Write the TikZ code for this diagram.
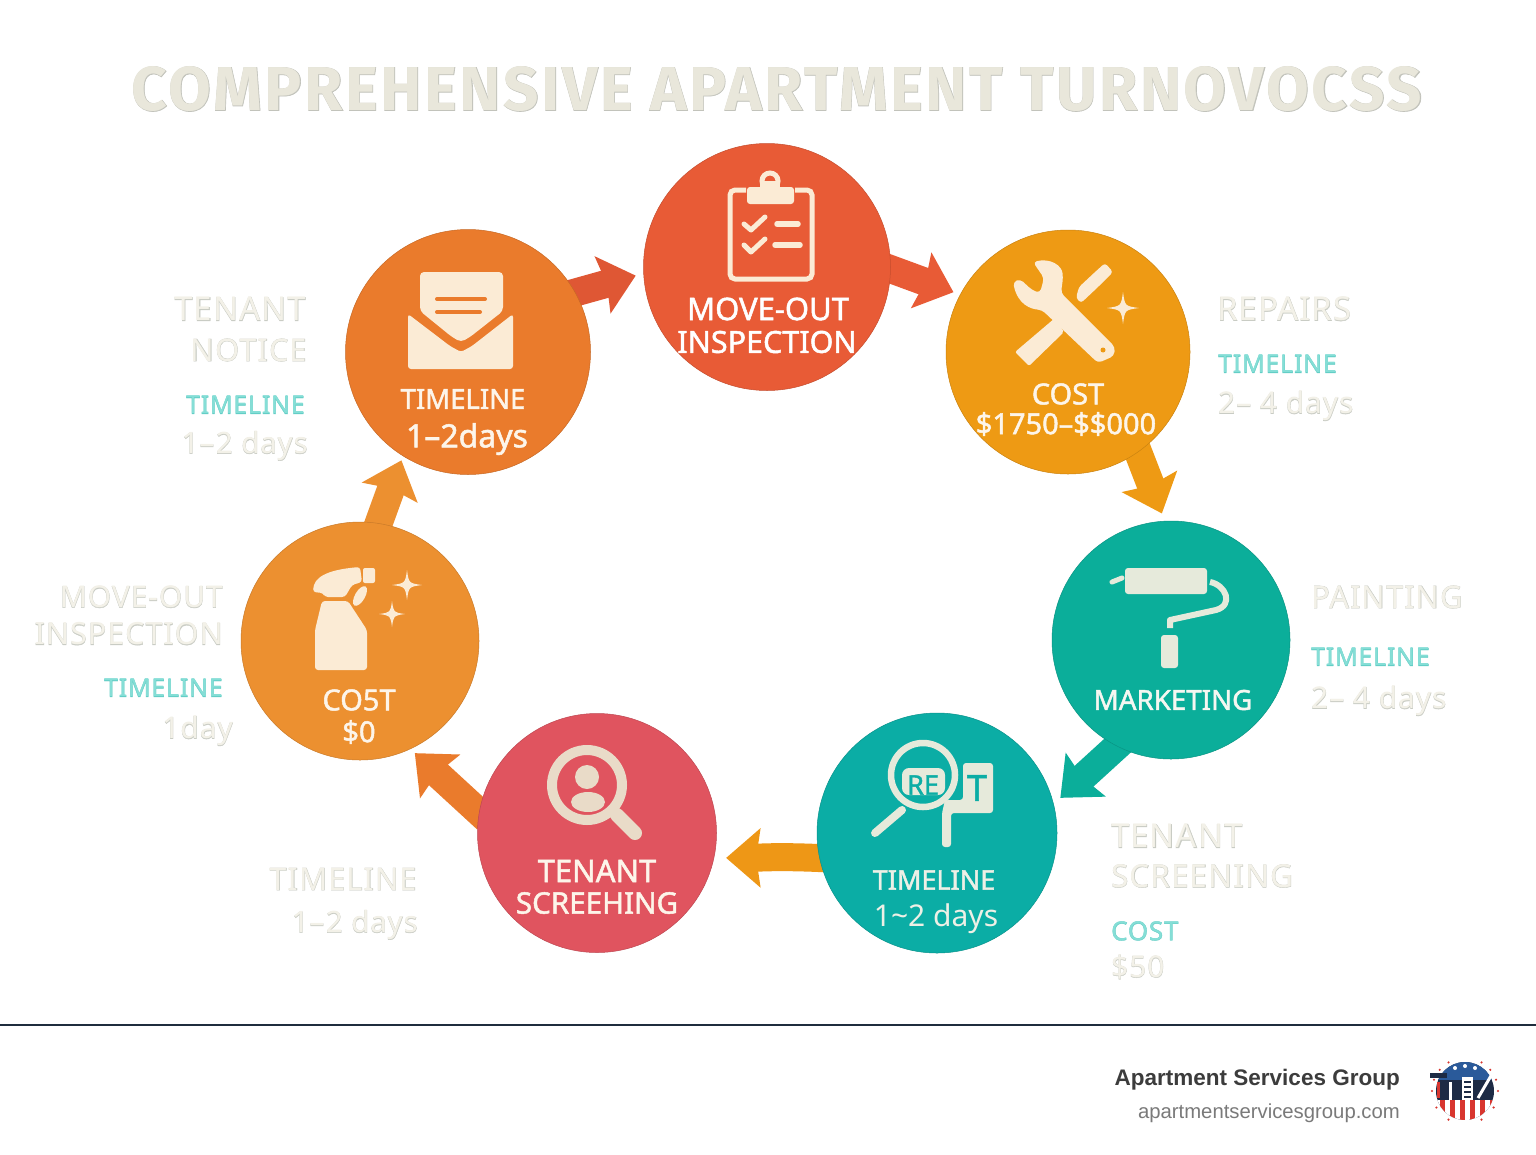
\documentclass[tikz,border=0pt]{standalone}
\usepackage{xcolor}
\usepackage{fontspec}
\setmainfont{Noto Sans}[BoldFont={Noto Sans},BoldFeatures={FakeBold=1.6}]
\usetikzlibrary{arrows.meta, backgrounds}
\newfontfamily\labelfont[LetterSpace=3]{Noto Sans}
\newfontfamily\labeledge[LetterSpace=3,FakeBold=1.2]{Noto Sans}
\newfontfamily\titlefont[LetterSpace=4.2]{Fira Sans Bold}
\newfontfamily\titleedge[LetterSpace=4.2,FakeBold=1]{Fira Sans Bold}
\newfontfamily\footfont{Liberation Sans}
\definecolor{moveorange}{HTML}{E85B36}
\definecolor{repairamber}{HTML}{EE9A14}
\definecolor{paintteal}{HTML}{0BAE9A}
\definecolor{rentteal}{HTML}{0BADA5}
\definecolor{screenrose}{HTML}{E0545F}
\definecolor{cleanorange}{HTML}{EC9030}
\definecolor{noticeorange}{HTML}{EA7B2C}
\definecolor{iconcream}{HTML}{FBEBD5}
\definecolor{iconpale}{HTML}{E6EADB}
\definecolor{ghostfill}{HTML}{F3F1E8}
\definecolor{ghostline}{HTML}{C9CCC4}
\definecolor{titlefill}{HTML}{E9E7DB}
\definecolor{titleline}{HTML}{C2C3BB}
\definecolor{tealfill}{HTML}{85DED6}
\definecolor{tealline}{HTML}{63CEC6}
\definecolor{footline}{HTML}{1F2D3D}
\definecolor{footdark}{HTML}{3C3C3C}
\definecolor{footgrey}{HTML}{7A7A7A}
\definecolor{logoblue}{HTML}{2A5A9A}
\definecolor{logored}{HTML}{D8362F}
\definecolor{logonavy}{HTML}{1D2B45}
\newcommand{\ghost}[2]{\rlap{\color{#1line}\labeledge #2}{\color{#1fill}\labelfont #2}}
\newcommand{\sparkle}[3]{\fill[#1, shift={(#2)}, scale=#3] (0,-1) .. controls (.12,-.12) .. (1,0) .. controls (.12,.12) .. (0,1) .. controls (-.12,.12) .. (-1,0) .. controls (-.12,-.12) .. cycle;}
\tikzset{
    stage/.style={circle, minimum size=#1, inner sep=0pt, line width=0.5pt},
    stagetext/.style={inner sep=0pt, font=\fontsize{#1}{#1}\selectfont\bfseries, text=iconcream!50!white},
    stagethin/.style={inner sep=0pt, font=\fontsize{#1}{#1}\selectfont, text=iconcream!50!white},
    ghosttext/.style={inner sep=0pt, font=\fontsize{#1}{#1}\selectfont},
    ghosttext/.default=30,
    tealtext/.style={inner sep=0pt, font=\fontsize{25}{25}\selectfont},
    flow/.style={line width=28pt, -{Stealth[length=34pt,width=58pt,inset=4pt]}, shorten <=-10pt}
}
\begin{document}
\begin{tikzpicture}[x=1pt, y=-1pt]
    \useasboundingbox (0,0) rectangle (1536,1154);

    % Title
    \node[inner sep=0pt, font=\fontsize{62}{62}\selectfont] (title) at (777,89)
        {\rlap{\color{titleline}\titleedge COMPREHENSIVE APARTMENT TURNOVOCSS}{\color{titlefill}\titlefont COMPREHENSIVE APARTMENT TURNOVOCSS}};

    % Stage circles
    \node[stage=245pt, fill=noticeorange, draw=noticeorange!85!black] (notice) at (468,352) {};
    \node[stage=247pt, fill=moveorange, draw=moveorange!85!black] (moveout) at (767,267) {};
    \node[stage=244pt, fill=repairamber, draw=repairamber!85!black] (repairs) at (1068,352) {};
    \node[stage=238pt, fill=paintteal, draw=paintteal!85!black] (painting) at (1171,640) {};
    \node[stage=240pt, fill=rentteal, draw=rentteal!85!black] (renting) at (937,833) {};
    \node[stage=239pt, fill=screenrose, draw=screenrose!85!black] (screening) at (597,833) {};
    \node[stage=238pt, fill=cleanorange, draw=cleanorange!85!black] (cleaning) at (360,641) {};

    % Connectors under the circles
    \begin{scope}[on background layer]
        \fill[white] (0,0) rectangle (1536,1154);
        \draw[flow, moveorange!96!black, shorten >=8pt] (notice.29) -- (moveout.183);
        \draw[flow, moveorange, shorten >=7pt] (moveout.-1) -- (repairs.152);
        \draw[flow, repairamber, shorten >=8pt] (repairs.-55) -- (painting.93);
        \draw[flow, paintteal, shorten >=9pt] (painting.-117) -- (renting.14);
        \draw[flow, repairamber!90!noticeorange, shorten >=12pt] (renting.192) to[out=177, in=0] (screening.-12);
        \draw[flow, noticeorange, shorten >=6pt] (screening.170) -- (cleaning.-65);
        \draw[flow, cleanorange, shorten >=4.5pt] (cleaning.81) -- (notice.-122);
    \end{scope}

    % Text inside the circles
    \node[stagetext=31, text=white] (moveouta) at (768,309) {MOVE-OUT};
    \node[stagetext=30.5, text=white] (moveoutb) at (767,342) {INSPECTION};
    \node[stagetext=29] (repairsa) at (1068,394) {COST};
    \node[stagetext=29] (repairsb) at (1066,424) {\$1750–\$\$000};
    \node[stagetext=27.7, text=iconpale!40!white] (paintinga) at (1173,700) {MARKETING};
    \node[stagetext=27, text=iconpale!70!white] (rentinga) at (934,880) {TIMELINE};
    \node[stagethin=30, text=iconpale!70!white] (rentingb) at (936,919) {1\textasciitilde 2 days};
    \node[stagetext=31] (screeninga) at (597,871) {TENANT};
    \node[stagetext=29.6] (screeningb) at (597,903) {SCREEHING};
    \node[stagetext=29] (cleaninga) at (359,700) {CO5T};
    \node[stagetext=29] (cleaningb) at (359,732) {\$0};
    \node[stagetext=27.5] (noticea) at (463,399) {TIMELINE};
    \node[stagetext=32] (noticeb) at (467,439) {1–2days};

    % Ghost labels beside the circles
    \node[ghosttext=33, anchor=east] (lnotea) at (306,309) {\ghost{ghost}{TENANT}};
    \node[ghosttext=31, anchor=east] (lnoteb) at (307,350) {\ghost{ghost}{NOTICE}};
    \node[tealtext, anchor=east] (lnotec) at (305,405) {\ghost{teal}{TIMELINE}};
    \node[ghosttext=29.5, anchor=east] (lnoted) at (308,446) {\ghost{ghost}{1–{\kern-7pt} 2 days}};
    \node[ghosttext=33, anchor=west] (lrepa) at (1217,309) {\ghost{ghost}{REPAIRS}};
    \node[tealtext, anchor=west] (lrepb) at (1218,364) {\ghost{teal}{TIMELINE}};
    \node[ghosttext, anchor=west] (lrepc) at (1218,406) {\ghost{ghost}{2– 4 days}};
    \node[ghosttext=31, anchor=west] (lpaia) at (1311,597) {\ghost{ghost}{PAINTING}};
    \node[tealtext, anchor=west] (lpaib) at (1311,657) {\ghost{teal}{TIMELINE}};
    \node[ghosttext, anchor=west] (lpaic) at (1311,701) {\ghost{ghost}{2– 4 days}};
    \node[ghosttext=33, anchor=west] (lrena) at (1111,836) {\ghost{ghost}{TENANT}};
    \node[ghosttext=31.7, anchor=west] (lrenb) at (1111,876) {\ghost{ghost}{SCREENING}};
    \node[tealtext, anchor=west, font=\fontsize{26}{26}\selectfont] (lrenc) at (1111,931) {\ghost{teal}{COST}};
    \node[ghosttext, anchor=west] (lrend) at (1111,967) {\ghost{ghost}{\$50}};
    \node[ghosttext=31, anchor=east] (lscra) at (417,879) {\ghost{ghost}{TIMELINE}};
    \node[ghosttext=29.5, anchor=east] (lscrb) at (418,925) {\ghost{ghost}{1–{\kern-7pt} 2 days}};
    \node[ghosttext, anchor=east] (lclea) at (223,597) {\ghost{ghost}{MOVE-OUT}};
    \node[ghosttext=30.6, anchor=east] (lcleb) at (223,634) {\ghost{ghost}{INSPECTION}};
    \node[tealtext, anchor=east] (lclec) at (223,688) {\ghost{teal}{TIMELINE}};
    \node[ghosttext, anchor=east] (lcled) at (233,731) {\ghost{ghost}{1day}};

    % Clipboard icon
    \draw[iconcream, line width=5pt, rounded corners=5pt] (746,190) -- (730,190) -- (730,279) -- (812,279) -- (812,190) -- (795,190);
    \fill[iconcream, rounded corners=3pt] (747,187) rectangle (794,204);
    \draw[iconcream, line width=5pt] (770,181) circle (8);
    \fill[iconcream] (760,181) rectangle (780,190);
    \draw[iconcream, line width=5pt, line cap=round, line join=round] (744,224) -- (751,230) -- (765,217);
    \draw[iconcream, line width=5pt, line cap=round, line join=round] (744,245) -- (751,252) -- (765,239);
    \draw[iconcream, line width=5.5pt, line cap=round] (777,224) -- (798,224);
    \draw[iconcream, line width=5.5pt, line cap=round] (775,245) -- (800,245);

    % Wrench and screwdriver icon
    \fill[iconcream, rounded corners=2pt] (1055,318) -- (1064,332) -- (1029,366) -- (1015,352) -- cycle;
    \fill[iconcream, rounded corners=4pt] (1033,262) .. controls (1050,258) and (1062,265) .. (1063,278) -- (1061,293) -- (1115,347) -- (1114,356) -- (1098,363) -- (1042,310) .. controls (1031,309) and (1018,305) .. (1013,282) -- (1020,279) -- (1032,290) -- (1040,293) -- (1044,278) -- cycle;
    \fill[repairamber] (1103,350) circle (2.5);
    \fill[iconcream, rounded corners=3pt] (1105,263) -- (1113,272) -- (1098,287) -- (1081,303) -- (1076,298) -- (1079,287) -- (1094,273) -- cycle;
    \sparkle{iconcream}{1123,308}{16}

    % Paint roller icon
    \fill[iconpale, rounded corners=3pt] (1125,568) rectangle (1207,594);
    \draw[iconpale, line width=5pt, line cap=round] (1112,582) -- (1122,578);
    \draw[iconpale, line width=6pt, line join=round] (1210,582) .. controls (1226,585) and (1234,605) .. (1216,610) -- (1170,620) -- (1170,628);
    \fill[iconpale, rounded corners=3pt] (1161,635) rectangle (1178,668);

    % Magnifier and sign icon
    \fill[iconpale, rounded corners=7pt] (902,768) rectangle (945,795);
    \node[inner sep=0pt, text=rentteal, font=\fontsize{27}{27}\selectfont\bfseries] (signre) at (923,785) {RE};
    \draw[iconpale, line width=6.5pt] (923,775) circle (32);
    \draw[iconpale, line width=8pt, line cap=round] (902,810) -- (875,833);
    \fill[iconpale, rounded corners=3pt] (963,763) -- (993,763) -- (993,813) -- (951,813) -- (951,847) -- (942,847) -- (942,813) -- (945,800) -- (963,800) -- cycle;
    \node[inner sep=0pt, text=rentteal, font=\fontsize{36}{36}\selectfont\bfseries] (signt) at (977,788) {T};

    % Tenant search icon
    \draw[iconcream!85!gray, line width=10pt] (587,785) circle (35);
    \draw[iconcream!85!gray, line width=14pt, line cap=round] (617,815) -- (635,833);
    \fill[iconcream!85!gray] (587,777) circle (12);
    \fill[iconcream!85!gray] (588,802) ellipse (17 and 10);

    % Spray bottle icon
    \fill[iconcream, rounded corners=3pt] (322,601) -- (348,601) -- (367,630) -- (367,670) -- (315,670) -- (315,630) -- cycle;
    \fill[iconcream, rounded corners=3pt] (313,592) .. controls (314,578) and (325,570) .. (360,567) -- (362,582) -- (352,585) -- (345,597) -- (325,597) -- (323,593) -- cycle;
    \fill[iconcream, rounded corners=2pt] (363,568) rectangle (375,583);
    \fill[iconcream, rotate around={-30:(360,596)}] (360,596) ellipse (5 and 11);
    \sparkle{iconcream}{407,585}{15}
    \sparkle{iconcream}{392,614}{13}

    % Envelope icon
    \fill[iconcream, rounded corners=4pt] (420,272) -- (503,272) -- (503,311) -- (470,337) -- (461,342) -- (452,337) -- (420,311) -- cycle;
    \draw[noticeorange, line width=4pt, line cap=round] (437,299) -- (485,299);
    \draw[noticeorange, line width=4pt, line cap=round] (437,312) -- (480,312);
    \fill[iconcream, rounded corners=3pt] (408,314) -- (450,346) -- (461,352) -- (472,346) -- (513,314) -- (513,369) -- (408,369) -- cycle;

    % Footer
    \draw[footline, line width=2.5pt] (0,1025) -- (1536,1025);
    \node[inner sep=0pt, anchor=east, text=footdark, font=\footfont\fontsize{22.5}{22.5}\selectfont\bfseries] (brand) at (1400,1080) {Apartment Services Group};
    \node[inner sep=0pt, anchor=east, text=footgrey, font=\footfont\fontsize{20.3}{20.3}\selectfont] (site) at (1400,1113) {apartmentservicesgroup.com};

    % Logo badge
    \foreach \dotangle in {0,30,60,120,150,180,200,220,240,300,320,340}
        \fill[logored] (1465,1091) ++(\dotangle:33) circle (1.2);
    \begin{scope}
        \clip (1465,1091) circle (29);
        \fill[logonavy] (1436,1062) rectangle (1494,1120);
        \fill[logoblue] (1436,1062) rectangle (1494,1080);
        \fill[white] (1436,1100) rectangle (1494,1120);
        \foreach \stripe in {1440,1450,1460,1470,1480,1490}
            \fill[logored] (\stripe,1100) rectangle (\stripe+5,1120);
    \end{scope}
    \foreach \starx/\stary in {1455/1068,1465/1066,1475/1068}
        \fill[white] (\starx,\stary) circle (2);
    \fill[white] (1462,1077) rectangle (1473,1100);
    \foreach \winy in {1081,1086,1091,1096}
        \fill[logonavy] (1464,\winy) rectangle (1471,\winy+2);
    \draw[white, line width=3pt] (1450,1082) -- (1450,1100);
    \draw[white, line width=3pt] (1478,1098) -- (1492,1074);
    \draw[logored, line width=3pt] (1438,1082) -- (1438,1098);
    \fill[logonavy] (1430,1073) rectangle (1447,1078);
\end{tikzpicture}
\end{document}
